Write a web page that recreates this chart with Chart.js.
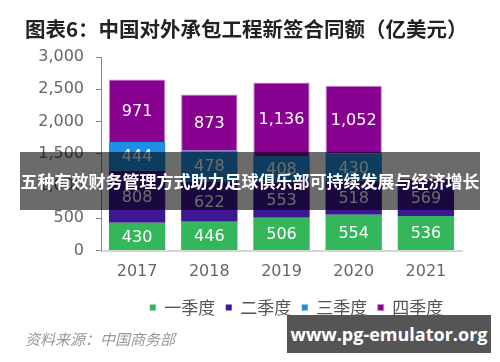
<!DOCTYPE html>
<html>
<head>
<meta charset="utf-8">
<script src="https://cdn.jsdelivr.net/npm/chart.js@4"></script>
<style>
  body { margin:0; background:#fff; }
  #wrap { position:relative; width:500px; height:362px; overflow:hidden; }
  #c { position:absolute; left:0; top:0; }
  .title { position:absolute; left:25px; top:16px; font:bold 20.5px "Noto Sans CJK SC", sans-serif; color:#222; line-height:24px; white-space:nowrap; }
  .source { position:absolute; left:25px; top:330px; font:italic 15px "Noto Sans CJK SC", sans-serif; color:#999; line-height:18px; white-space:nowrap; }
  .banner { position:absolute; left:20px; top:152px; width:460px; height:58px; background:rgba(0,0,0,0.58);
            color:#fff; font:bold 17px "Noto Sans CJK SC", sans-serif; line-height:58px; text-align:center; white-space:nowrap; }
  .mark { position:absolute; left:287px; top:315px; width:204px; height:38px; background:#555;
          color:#fff; font:bold 18px "Open Sans", sans-serif; line-height:38px; text-align:center; white-space:nowrap; }
</style>
</head>
<body>
<div id="wrap">
  <canvas id="c" width="500" height="362"></canvas>
  <div class="title">图表6：中国对外承包工程新签合同额（亿美元）</div>
  <div class="source">资料来源：中国商务部</div>
  <div class="banner">五种有效财务管理方式助力足球俱乐部可持续发展与经济增长</div>
  <div class="mark">www.pg-emulator.org</div>
</div>
<script>
// ── Data ─────────────────────────────────────────────
const years = ['2017', '2018', '2019', '2020', '2021'];
const quarterNames = ['一季度', '二季度', '三季度', '四季度'];
const q1 = [430, 446, 506, 554, 536];
const q2 = [808, 622, 553, 518, 569];
const q3 = [444, 478, 408, 430, null];
const q4 = [971, 873, 1136, 1052, null];
const yTicks = [0, 500, 1000, 1500, 2000, 2500, 3000];

const COLORS = ['#34b65b', '#3f1793', '#1f8fe3', '#880090'];
const NUM_FONT = '"DejaVu Sans", Verdana, sans-serif';

function fmt(n) { return n.toLocaleString('en-US'); }

// value labels in the middle of each segment
const barLabels = {
    id: 'barLabels',
    afterDatasetsDraw(chart) {
        const ctx = chart.ctx;
        ctx.save();
        ctx.font = '16px ' + NUM_FONT;
        ctx.fillStyle = '#fff';
        ctx.textAlign = 'center';
        ctx.textBaseline = 'middle';
        chart.data.datasets.forEach((ds, i) => {
            chart.getDatasetMeta(i).data.forEach((bar, j) => {
                const v = ds.data[j];
                if (v == null) return;
                ctx.fillText(fmt(v), bar.x, (bar.y + bar.base) / 2 + 1);
            });
        });
        ctx.restore();
    }
};

// legend sits a bit right of the plot centre in the original
const shiftLegend = {
    id: 'shiftLegend',
    afterLayout(chart) {
        chart.legend.left += 15;
        chart.legend.right += 15;
    }
};

const series = [q1, q2, q3, q4];

new Chart(document.getElementById('c'), {
    type: 'bar',
    data: {
        labels: years,
        datasets: series.map((d, i) => ({
            label: quarterNames[i],
            data: d,
            backgroundColor: COLORS[i],
            borderColor: i === 3 ? '#c77fd0' : COLORS[i],
            borderWidth: i === 3 ? 1 : 0,
            categoryPercentage: 1,
            barPercentage: 0.78
        }))
    },
    options: {
        responsive: false,
        animation: false,
        layout: { padding: { top: 57, right: 38, bottom: 36, left: 0 } },
        plugins: {
            legend: {
                position: 'bottom',
                fullSize: false,
                labels: {
                    boxWidth: 6, boxHeight: 6, padding: 10.5,
                    color: '#555',
                    font: { size: 17, family: '"Noto Sans CJK SC", sans-serif' }
                }
            },
            tooltip: { enabled: false }
        },
        scales: {
            x: {
                stacked: true,
                grid: { display: false, drawTicks: false },
                border: { display: true, color: '#d6d6d6', width: 2 },
                ticks: { color: '#666', padding: 12, font: { size: 16, family: NUM_FONT } },
                afterFit(scale) { scale.height = 38; }
            },
            y: {
                stacked: true,
                min: 0, max: 3000,
                afterBuildTicks(scale) { scale.ticks = yTicks.map(v => ({ value: v })); },
                grid: { drawOnChartArea: false, drawTicks: true, tickLength: 5, color: '#888' },
                border: { display: true, color: '#888', width: 1 },
                ticks: { color: '#666', padding: 12, callback: v => fmt(v), font: { size: 16, family: NUM_FONT } },
                afterFit(scale) { scale.width = 101; }
            }
        }
    },
    plugins: [barLabels, shiftLegend]
});
</script>
</body>
</html>
